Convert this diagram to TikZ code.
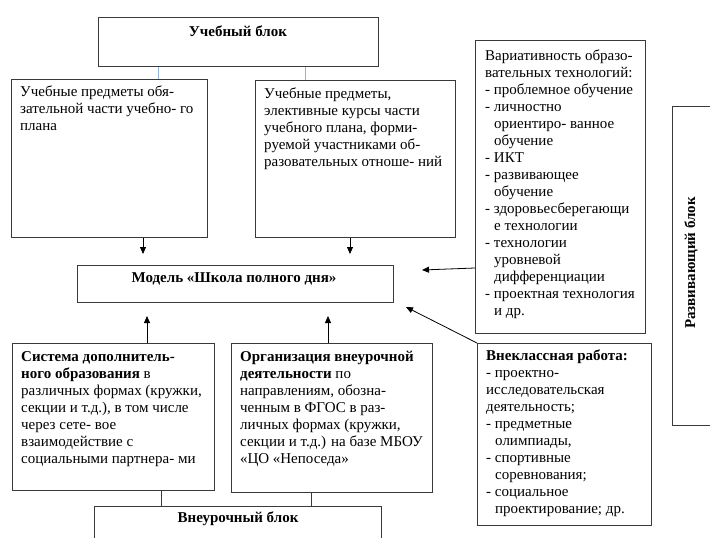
\documentclass[tikz,border=0pt]{standalone}
\usepackage{fontspec}
\setmainfont{Liberation Serif}
\usetikzlibrary{arrows.meta}
\definecolor{boxline}{HTML}{3A3A3A}
\definecolor{bluel}{HTML}{8FB3DE}
\tikzset{
  box/.style={draw=boxline, line width=0.9pt, rectangle, inner sep=0pt, anchor=north west},
  txt/.style={anchor=north west, align=left, inner sep=0pt, font=\fontsize{15}{17}\selectfont},
  ttl/.style={anchor=center, inner sep=0pt, font=\fontsize{15}{17}\selectfont\bfseries},
  arr/.style={draw=black, line width=0.8pt, -{Triangle[length=7pt,width=6pt]}},
  lnk/.style={draw=boxline, line width=0.9pt},
  blnk/.style={draw=bluel, line width=0.9pt}
}
\begin{document}
\begin{tikzpicture}[x=1pt,y=-1pt]
\useasboundingbox (0,0) rectangle (710,538);
% boxes
\node[box, minimum width=280pt, minimum height=49pt] (ub) at (98,17) {};
\node[box, minimum width=196pt, minimum height=158pt] (b1) at (11,79) {};
\node[box, minimum width=200pt, minimum height=157pt] (b2) at (255,80) {};
\node[box, minimum width=316pt, minimum height=37pt] (mod) at (77,265) {};
\node[box, minimum width=170pt, minimum height=293pt] (var) at (475,40) {};
\node[box, minimum width=174pt, minimum height=182pt] (vk) at (477,343) {};
\node[box, minimum width=60pt, minimum height=319pt] (rb) at (672,106) {};
\node[box, minimum width=202pt, minimum height=147pt] (c1) at (12,343) {};
\node[box, minimum width=201pt, minimum height=149pt] (c2) at (231,343) {};
\node[box, minimum width=287pt, minimum height=50pt] (vb) at (94,506) {};
% texts
\node[ttl] (tub) at (238,31) {Учебный блок};
\node[txt] (t1) at (20,86) {Учебные предметы обя-\\зательной части учебно- го\\плана};
\node[txt] (t2) at (264,88) {Учебные предметы,\\элективные курсы части\\учебного плана, форми-\\руемой участниками об-\\разовательных отноше- ний};
\node[ttl] (tmod) at (234,279) {Модель «Школа полного дня»};
\node[txt] (tvar) at (485,50) {Вариативность образо-\\вательных технологий:\\- проблемное обучение\\- личностно\\\hspace*{0.6em}ориентиро- ванное\\\hspace*{0.6em}обучение\\- ИКТ\\- развивающее\\\hspace*{0.6em}обучение\\- здоровьесберегающи\\\hspace*{0.6em}е технологии\\- технологии\\\hspace*{0.6em}уровневой\\\hspace*{0.6em}дифференциации\\- проектная технология\\\hspace*{0.6em}и др.};
\node[txt] (tvk) at (486,350) {\textbf{Внеклассная работа:}\\- проектно-\\исследовательская\\деятельность;\\- предметные\\\hspace*{0.6em}олимпиады,\\- спортивные\\\hspace*{0.6em}соревнования;\\- социальное\\\hspace*{0.6em}проектирование; др.};
\node[ttl, rotate=90] (trb) at (691,263) {Развивающий блок};
\node[txt] (tc1) at (21,351) {\textbf{Система дополнитель-}\\\textbf{ного образования} в\\различных формах (кружки,\\секции и т.д.), в том числе\\через сете- вое\\взаимодействие с\\социальными партнера- ми};
\node[txt] (tc2) at (240,351) {\textbf{Организация внеурочной}\\\textbf{деятельности} по\\направлениям, обозна-\\ченным в ФГОС в раз-\\личных формах (кружки,\\секции и т.д.) на базе МБОУ\\«ЦО «Непоседа»};
\node[ttl] (tvb) at (238,519) {Внеурочный блок};
% blue links
\draw[blnk] (ub.south -| 158,0) coordinate (bl1) -- (bl1 |- b1.north);
\draw[blnk] (ub.south -| 305,0) coordinate (bl2) -- (bl2 |- b2.north);
% arrows
\coordinate (a1) at (143,254);
\coordinate (a2) at (350,254);
\draw[arr] (b1.south -| a1) -- (a1);
\draw[arr] (b2.south -| a2) -- (a2);
\coordinate (a3) at (422,270);
\draw[arr] (var.west |- 0,268) -- (a3);
\coordinate (a4) at (406,307);
\draw[arr] (vk.north west) -- (a4);
\coordinate (a5) at (147,316);
\coordinate (a6) at (328,316);
\draw[arr] (c1.north -| a5) -- (a5);
\draw[arr] (c2.north -| a6) -- (a6);
% bottom links
\draw[lnk] (c1.south -| 161,0) -- (vb.north -| 161,0);
\draw[lnk] (c2.south -| 311,0) -- (vb.north -| 311,0);
\end{tikzpicture}
\end{document}
